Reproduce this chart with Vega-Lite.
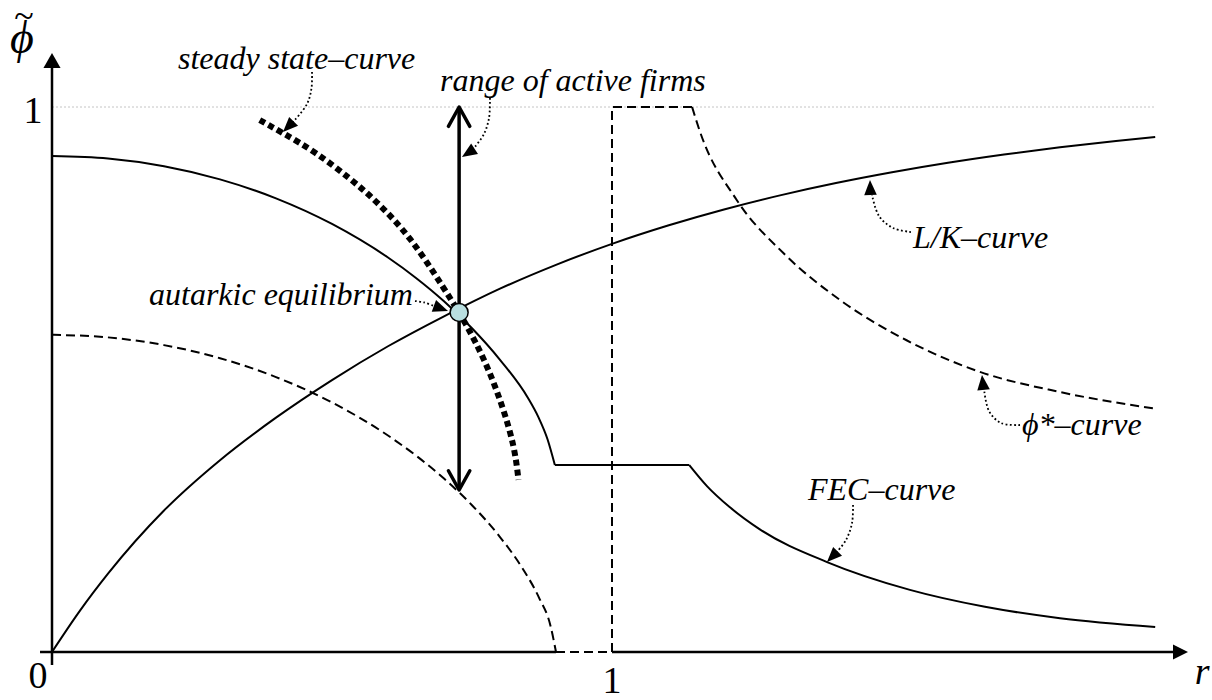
{
  "$schema": "https://vega.github.io/schema/vega-lite/v6.json",
  "width": 1212,
  "height": 700,
  "autosize": {"type": "none"},
  "padding": 0,
  "background": "white",
  "config": {"view": {"stroke": null}},
  "encoding": {
    "x": {"field": "x", "type": "quantitative", "scale": {"domain": [-0.092857, 2.071429], "nice": false, "zero": false}, "axis": null},
    "y": {"field": "y", "type": "quantitative", "scale": {"domain": [-0.088073, 1.19633], "nice": false, "zero": false}, "axis": null}
  },
  "layer": [
    {
      "data": {"values": [{"x": 0, "y": 1}, {"x": 1.97, "y": 1}]},
      "mark": {"type": "line", "stroke": "#c4c4c4", "strokeWidth": 1, "strokeDash": [2, 2]},
      "encoding": {}
    },
    {
      "data": {"values": [
        {"seg": "y", "i": 0, "x": 0, "y": -0.0239}, {"seg": "y", "i": 1, "x": 0, "y": 1.075},
        {"seg": "x1", "i": 0, "x": -0.0214, "y": 0}, {"seg": "x1", "i": 1, "x": 0.9, "y": 0},
        {"seg": "x2", "i": 0, "x": 1.0, "y": 0}, {"seg": "x2", "i": 1, "x": 2.0071, "y": 0}
      ]},
      "mark": {"type": "line", "stroke": "black", "strokeWidth": 2.5},
      "encoding": {"detail": {"field": "seg"}, "order": {"field": "i", "type": "quantitative"}}
    },
    {
      "data": {"values": [{"x": 0, "y": 1.0991}]},
      "mark": {"type": "point", "shape": "M0,0L-1,-0.57L-1,0.57Z", "size": 900, "filled": true, "color": "black", "opacity": 1, "strokeWidth": 0, "angle": -90}
    },
    {
      "data": {"values": [{"x": 2.0286, "y": 0}]},
      "mark": {"type": "point", "shape": "M0,0L-1,-0.5L-1,0.5Z", "size": 900, "filled": true, "color": "black", "opacity": 1, "strokeWidth": 0, "angle": 0}
    },
    {
      "data": {"values": [
        {"seg": "low", "x": 0, "y": 0.582}, {"seg": "low", "x": 0.1, "y": 0.5773}, {"seg": "low", "x": 0.2, "y": 0.5631},
        {"seg": "low", "x": 0.3, "y": 0.5391}, {"seg": "low", "x": 0.4, "y": 0.5044}, {"seg": "low", "x": 0.5, "y": 0.4579},
        {"seg": "low", "x": 0.6, "y": 0.3972}, {"seg": "low", "x": 0.65, "y": 0.3604}, {"seg": "low", "x": 0.7, "y": 0.3182},
        {"seg": "low", "x": 0.75, "y": 0.2693}, {"seg": "low", "x": 0.8, "y": 0.211}, {"seg": "low", "x": 0.84, "y": 0.1537},
        {"seg": "low", "x": 0.87, "y": 0.099}, {"seg": "low", "x": 0.89, "y": 0.0488}, {"seg": "low", "x": 0.9, "y": 0.0},
        {"seg": "phi", "x": 1.143, "y": 1.0}, {"seg": "phi", "x": 1.157, "y": 0.955}, {"seg": "phi", "x": 1.223, "y": 0.829},
        {"seg": "phi", "x": 1.306, "y": 0.732}, {"seg": "phi", "x": 1.407, "y": 0.646}, {"seg": "phi", "x": 1.526, "y": 0.572},
        {"seg": "phi", "x": 1.657, "y": 0.514}, {"seg": "phi", "x": 1.8, "y": 0.477}, {"seg": "phi", "x": 1.973, "y": 0.446}
      ]},
      "mark": {"type": "line", "stroke": "black", "strokeWidth": 2, "strokeDash": [9, 5], "interpolate": "monotone"},
      "encoding": {"detail": {"field": "seg"}}
    },
    {
      "data": {"values": [
        {"i": 0, "x": 0.9, "y": 0}, {"i": 1, "x": 1.0, "y": 0}, {"i": 2, "x": 1.0, "y": 1.0}, {"i": 3, "x": 1.143, "y": 1.0}
      ]},
      "mark": {"type": "line", "stroke": "black", "strokeWidth": 2, "strokeDash": [9, 5]},
      "encoding": {"order": {"field": "i", "type": "quantitative"}}
    },
    {
      "data": {"values": [
        {"seg": "fec1", "x": 0, "y": 0.91}, {"seg": "fec1", "x": 0.1, "y": 0.9054}, {"seg": "fec1", "x": 0.2, "y": 0.8913},
        {"seg": "fec1", "x": 0.3, "y": 0.8672}, {"seg": "fec1", "x": 0.4, "y": 0.8324}, {"seg": "fec1", "x": 0.5, "y": 0.7854},
        {"seg": "fec1", "x": 0.6, "y": 0.7238}, {"seg": "fec1", "x": 0.65, "y": 0.6863}, {"seg": "fec1", "x": 0.7, "y": 0.6435},
        {"seg": "fec1", "x": 0.75, "y": 0.594}, {"seg": "fec1", "x": 0.8, "y": 0.5361}, {"seg": "fec1", "x": 0.85, "y": 0.466},
        {"seg": "fec1", "x": 0.869, "y": 0.43}, {"seg": "fec1", "x": 0.885, "y": 0.39}, {"seg": "fec1", "x": 0.898, "y": 0.343},
        {"seg": "fec2", "x": 0.898, "y": 0.343}, {"seg": "fec2", "x": 1.138, "y": 0.343},
        {"seg": "fec3", "x": 1.138, "y": 0.343}, {"seg": "fec3", "x": 1.17, "y": 0.304}, {"seg": "fec3", "x": 1.21, "y": 0.266},
        {"seg": "fec3", "x": 1.264, "y": 0.225}, {"seg": "fec3", "x": 1.384, "y": 0.165}, {"seg": "fec3", "x": 1.532, "y": 0.114},
        {"seg": "fec3", "x": 1.666, "y": 0.083}, {"seg": "fec3", "x": 1.8, "y": 0.062}, {"seg": "fec3", "x": 1.97, "y": 0.046},
        {"seg": "lk", "x": 0, "y": 0}, {"seg": "lk", "x": 0.05, "y": 0.0759}, {"seg": "lk", "x": 0.1, "y": 0.1437},
        {"seg": "lk", "x": 0.2, "y": 0.2596}, {"seg": "lk", "x": 0.3, "y": 0.352}, {"seg": "lk", "x": 0.4, "y": 0.43},
        {"seg": "lk", "x": 0.5, "y": 0.499}, {"seg": "lk", "x": 0.6, "y": 0.561}, {"seg": "lk", "x": 0.7, "y": 0.616},
        {"seg": "lk", "x": 0.8, "y": 0.6666}, {"seg": "lk", "x": 0.9, "y": 0.7104}, {"seg": "lk", "x": 1.0, "y": 0.7489},
        {"seg": "lk", "x": 1.1, "y": 0.7825}, {"seg": "lk", "x": 1.2, "y": 0.812}, {"seg": "lk", "x": 1.3, "y": 0.8378},
        {"seg": "lk", "x": 1.4, "y": 0.8604}, {"seg": "lk", "x": 1.5, "y": 0.8802}, {"seg": "lk", "x": 1.6, "y": 0.8976},
        {"seg": "lk", "x": 1.7, "y": 0.9128}, {"seg": "lk", "x": 1.8, "y": 0.9261}, {"seg": "lk", "x": 1.9, "y": 0.9377},
        {"seg": "lk", "x": 1.97, "y": 0.945}
      ]},
      "mark": {"type": "line", "stroke": "black", "strokeWidth": 2, "interpolate": "monotone"},
      "encoding": {"detail": {"field": "seg"}}
    },
    {
      "data": {"values": [
        {"x": 0.371, "y": 0.976}, {"x": 0.4125, "y": 0.952}, {"x": 0.47, "y": 0.916}, {"x": 0.53, "y": 0.87},
        {"x": 0.58, "y": 0.825}, {"x": 0.64, "y": 0.757}, {"x": 0.698, "y": 0.67}, {"x": 0.738, "y": 0.603},
        {"x": 0.774, "y": 0.53}, {"x": 0.804, "y": 0.45}, {"x": 0.824, "y": 0.377}, {"x": 0.833, "y": 0.316}
      ]},
      "mark": {"type": "line", "stroke": "black", "strokeWidth": 6, "strokeDash": [6, 4], "interpolate": "natural"},
      "encoding": {}
    },
    {
      "data": {"values": [
        {"seg": "shaft", "i": 0, "x": 0.727, "y": 0.3}, {"seg": "shaft", "i": 1, "x": 0.727, "y": 0.997},
        {"seg": "top", "i": 0, "x": 0.7079, "y": 0.9646}, {"seg": "top", "i": 1, "x": 0.727, "y": 1.0}, {"seg": "top", "i": 2, "x": 0.7461, "y": 0.9646},
        {"seg": "bot", "i": 0, "x": 0.7079, "y": 0.3326}, {"seg": "bot", "i": 1, "x": 0.727, "y": 0.2972}, {"seg": "bot", "i": 2, "x": 0.7461, "y": 0.3326}
      ]},
      "mark": {"type": "line", "stroke": "black", "strokeWidth": 3.5, "strokeJoin": "round", "strokeCap": "round"},
      "encoding": {"detail": {"field": "seg"}, "order": {"field": "i", "type": "quantitative"}}
    },
    {
      "data": {"values": [
        {"seg": "ss", "i": 0, "x": 0.4643, "y": 1.0642}, {"seg": "ss", "i": 1, "x": 0.4634, "y": 1.0349}, {"seg": "ss", "i": 2, "x": 0.4554, "y": 1.0055}, {"seg": "ss", "i": 3, "x": 0.4304, "y": 0.9725},
        {"seg": "rg", "i": 0, "x": 0.7821, "y": 1.0165}, {"seg": "rg", "i": 1, "x": 0.7804, "y": 0.9798}, {"seg": "rg", "i": 2, "x": 0.7714, "y": 0.9505}, {"seg": "rg", "i": 3, "x": 0.7536, "y": 0.9248},
        {"seg": "ae", "i": 0, "x": 0.6482, "y": 0.644}, {"seg": "ae", "i": 1, "x": 0.6643, "y": 0.6413}, {"seg": "ae", "i": 2, "x": 0.6821, "y": 0.6349},
        {"seg": "lk", "i": 0, "x": 1.5339, "y": 0.7706}, {"seg": "lk", "i": 1, "x": 1.5018, "y": 0.778}, {"seg": "lk", "i": 2, "x": 1.4768, "y": 0.8}, {"seg": "lk", "i": 3, "x": 1.4643, "y": 0.8385},
        {"seg": "ph", "i": 0, "x": 1.7286, "y": 0.4165}, {"seg": "ph", "i": 1, "x": 1.6946, "y": 0.4202}, {"seg": "ph", "i": 2, "x": 1.6732, "y": 0.4422}, {"seg": "ph", "i": 3, "x": 1.6643, "y": 0.4826},
        {"seg": "fe", "i": 0, "x": 1.4304, "y": 0.2697}, {"seg": "fe", "i": 1, "x": 1.4286, "y": 0.2367}, {"seg": "fe", "i": 2, "x": 1.4179, "y": 0.2055}, {"seg": "fe", "i": 3, "x": 1.4, "y": 0.1817}
      ]},
      "mark": {"type": "line", "stroke": "black", "strokeWidth": 1.8, "strokeDash": [1.8, 2.4], "interpolate": "catmull-rom"},
      "encoding": {"detail": {"field": "seg"}, "order": {"field": "i", "type": "quantitative"}}
    },
    {
      "data": {"values": [{"x": 0.4125, "y": 0.9541}, {"x": 1.3839, "y": 0.1651}]},
      "mark": {"type": "point", "shape": "M0,0L-1,-0.42L-1,0.42Z", "size": 900, "filled": true, "color": "black", "opacity": 1, "strokeWidth": 0, "angle": 135}
    },
    {
      "data": {"values": [{"x": 0.7321, "y": 0.9083}]},
      "mark": {"type": "point", "shape": "M0,0L-1,-0.42L-1,0.42Z", "size": 900, "filled": true, "color": "black", "opacity": 1, "strokeWidth": 0, "angle": 147}
    },
    {
      "data": {"values": [{"x": 0.7071, "y": 0.6257}]},
      "mark": {"type": "point", "shape": "M0,0L-1,-0.42L-1,0.42Z", "size": 900, "filled": true, "color": "black", "opacity": 1, "strokeWidth": 0, "angle": 20}
    },
    {
      "data": {"values": [{"x": 1.4607, "y": 0.8661}]},
      "mark": {"type": "point", "shape": "M0,0L-1,-0.42L-1,0.42Z", "size": 900, "filled": true, "color": "black", "opacity": 1, "strokeWidth": 0, "angle": -92}
    },
    {
      "data": {"values": [{"x": 1.6607, "y": 0.5083}]},
      "mark": {"type": "point", "shape": "M0,0L-1,-0.42L-1,0.42Z", "size": 900, "filled": true, "color": "black", "opacity": 1, "strokeWidth": 0, "angle": -96}
    },
    {
      "data": {"values": [{"x": 0.727, "y": 0.623}]},
      "mark": {"type": "point", "shape": "circle", "size": 324, "filled": true, "fill": "#b9dfe0", "stroke": "black", "strokeWidth": 1.5, "opacity": 1}
    },
    {
      "data": {"values": [
        {"label": "steady state–curve", "x": 0.225, "y": 1.0697},
        {"label": "range of active firms", "x": 0.6929, "y": 1.0294},
        {"label": "L/K–curve", "x": 1.5375, "y": 0.7413},
        {"label": "ϕ*–curve", "x": 1.7321, "y": 0.3982},
        {"label": "FEC–curve", "x": 1.35, "y": 0.2789}
      ]},
      "mark": {"type": "text", "font": "Liberation Serif", "fontStyle": "italic", "fontSize": 32, "align": "left", "baseline": "alphabetic", "color": "black"},
      "encoding": {"text": {"field": "label"}}
    },
    {
      "data": {"values": [{"label": "autarkic equilibrium", "x": 0.6446, "y": 0.6367}]},
      "mark": {"type": "text", "font": "Liberation Serif", "fontStyle": "italic", "fontSize": 32, "align": "right", "baseline": "alphabetic", "color": "black"},
      "encoding": {"text": {"field": "label"}}
    },
    {
      "data": {"values": [{"label": "ϕ", "x": -0.0536, "y": 1.0991}]},
      "mark": {"type": "text", "font": "Liberation Serif", "fontStyle": "italic", "fontSize": 46, "align": "center", "baseline": "alphabetic", "color": "black"},
      "encoding": {"text": {"field": "label"}}
    },
    {
      "data": {"values": [{"label": "~", "x": -0.05, "y": 1.1450}]},
      "mark": {"type": "text", "font": "Liberation Serif", "fontSize": 36, "align": "center", "baseline": "alphabetic", "color": "black"},
      "encoding": {"text": {"field": "label"}}
    },
    {
      "data": {"values": [
        {"label": "1", "x": -0.0339, "y": 0.9706},
        {"label": "0", "x": -0.025, "y": -0.0661},
        {"label": "1", "x": 1.0, "y": -0.0752}
      ]},
      "mark": {"type": "text", "font": "Liberation Serif", "fontSize": 38, "align": "center", "baseline": "alphabetic", "color": "black"},
      "encoding": {"text": {"field": "label"}}
    },
    {
      "data": {"values": [{"label": "r", "x": 2.0536, "y": -0.0587}]},
      "mark": {"type": "text", "font": "Liberation Serif", "fontStyle": "italic", "fontSize": 38, "align": "center", "baseline": "alphabetic", "color": "black"},
      "encoding": {"text": {"field": "label"}}
    }
  ]
}
